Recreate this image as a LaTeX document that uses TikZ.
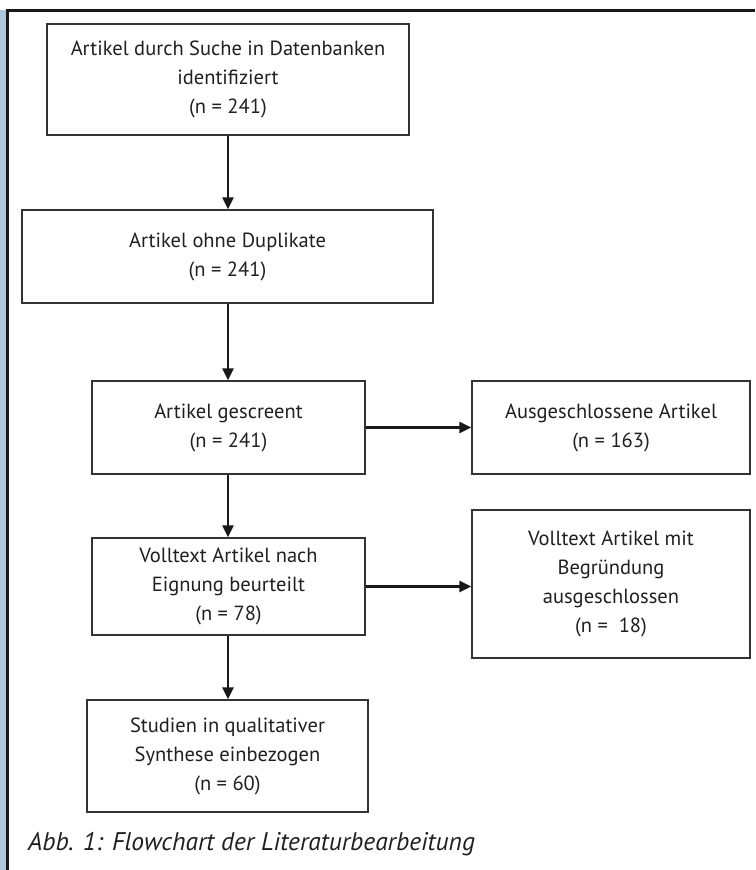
\documentclass[tikz,border=0pt]{standalone}
\usepackage{fontspec}
\setmainfont{PT Sans}
\usetikzlibrary{arrows.meta}
\definecolor{stripblue}{HTML}{AFC8DC}
\definecolor{boxline}{HTML}{333333}
\tikzset{
  flowbox/.style={draw=boxline, line width=1.5pt, rectangle, align=center, inner sep=0pt,
    font=\fontsize{20.5}{29}\selectfont, text=black!88},
  flowarrow/.style={line width=2.6pt, black!90, -{Triangle[length=12pt,width=11pt]}},
}
\begin{document}
\begin{tikzpicture}[x=1pt,y=-1pt]
\useasboundingbox (0,0) rectangle (755,870);
% frame
\fill[stripblue] (0,10) rectangle (6,870);
\draw[line width=3pt, black!90] (7.5,10) -- (7.5,870);
\draw[line width=3pt, black!90] (6,10) -- (755,10);
% boxes
\node[flowbox, minimum width=362pt, minimum height=111pt] (b1) at (228,79.5)
  {Artikel durch Suche in Datenbanken\\identifiziert\\(n = 241)};
\node[flowbox, minimum width=411pt, minimum height=93pt] (b2) at (227.5,256.5)
  {Artikel ohne Duplikate\\(n = 241)};
\node[flowbox, minimum width=273pt, minimum height=93pt] (b3) at (228.5,427.5)
  {Artikel gescreent\\(n = 241)};
\node[flowbox, minimum width=278pt, minimum height=93pt] (b4) at (611,427.5)
  {Ausgeschlossene Artikel\\(n = 163)};
\node[flowbox, minimum width=273pt, minimum height=97pt] (b5) at (228.5,586.5)
  {Volltext Artikel nach\\Eignung beurteilt\\(n = 78)};
\node[flowbox, minimum width=278pt, minimum height=148pt] (b6) at (611,584)
  {Volltext Artikel mit\\Begründung\\ausgeschlossen\\(n =\ \ 18)};
\node[flowbox, minimum width=281pt, minimum height=112pt] (b7) at (227.5,756)
  {Studien in qualitativer\\Synthese einbezogen\\(n = 60)};
% caption
\node[anchor=base west, inner sep=0pt, font=\fontsize{25.5}{30}\selectfont\itshape, text=black!88] (cap) at (28,850)
  {Abb. 1: Flowchart der Literaturbearbeitung};
% arrows
\draw[flowarrow] (b1.south) -- (b1.south |- b2.north);
\draw[flowarrow] (b2.south -| b1.south) -- (b1.south |- b3.north);
\draw[flowarrow] (b3.south -| b1.south) -- (b1.south |- b5.north);
\draw[flowarrow] (b5.south -| b1.south) -- (b1.south |- b7.north);
\draw[flowarrow] (b3.east) -- (b3.east -| b4.west);
\draw[flowarrow] (b5.east) -- (b5.east -| b6.west);
\end{tikzpicture}
\end{document}
